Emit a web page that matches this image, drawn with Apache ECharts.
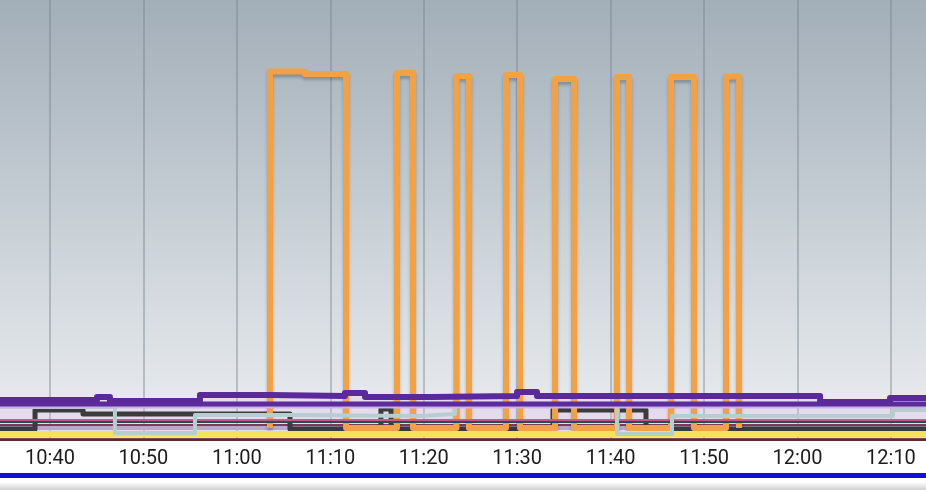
<!DOCTYPE html>
<html><head><meta charset="utf-8">
<script src="https://cdn.jsdelivr.net/npm/echarts@6/dist/echarts.min.js"></script>
<style>html,body{margin:0;padding:0;background:#fff;overflow:hidden}#c{width:926px;height:490px}</style>
</head><body><div id="c"></div>
<script>
const DAY = '2024-05-01';
const axisStart = '10:34:39';
const axisEnd = '12:13:45';
const tickLabels = ['10:40','10:50','11:00','11:10','11:20','11:30','11:40','11:50','12:00','12:10'];
const yMaxW = 2195;

// Orange (heater) power, W
const heaterTimes = ['11:03:32','11:03:33','11:07:17','11:11:41','11:17:08','11:18:51','11:23:30','11:24:50','11:28:48','11:30:18','11:34:03','11:36:05','11:40:41','11:41:58','11:46:28','11:48:55','11:52:21','11:53:44'];
const heaterW = [55,1837,1825,55,1830,55,1815,55,1820,55,1800,55,1810,55,1810,55,1812,55];

// Purple upper line, W
const purpleATimes = ['10:34:39','10:45:02','10:46:25','10:56:03','11:03:33','11:11:34','11:13:43','11:20:40','11:29:59','11:32:07','12:02:25','12:09:54','12:13:45'];
const purpleAW = [195,210,190,220,215,230,210,215,235,215,185,205,205];

// Purple lower line, W
const purpleBTimes = ['10:34:39','12:13:45'];
const purpleBW = [175,175];

// Lavender line, W
const lavenderTimes = ['10:34:39','12:13:45'];
const lavenderW = [160,160];

// Light cyan-grey line, W
const cyanTimes = ['10:34:39','10:46:57','10:55:31','11:05:41','11:19:36','11:23:21','11:40:41','11:46:34','12:10:13','12:13:45'];
const cyanW = [160,30,120,115,125,165,25,115,145,145];

// Dark grey line, W
const darkTimes = ['10:34:39','10:38:24','10:43:32','11:05:41','11:15:25','11:16:30','11:33:50','11:43:47','12:13:45'];
const darkW = [50,145,125,50,150,50,145,50,50];

// Flat base lines, W
const flatTimes = ['10:34:39','12:13:45'];
const pinkW = [95,95];
const tealW = [85,85];
const maroonW = [70,70];
const mauveW = [55,55];
const yellowW = [25,25];

function toMs(t){ const p = t.split(':'); return new Date(DAY + 'T' + (p.length===2 ? t+':00' : t)).getTime(); }
function pairs(times, vals){ return times.map((t,i)=>[toMs(t), vals[i]]); }
function pad(n){ return (n<10?'0':'')+n; }
function stepLine(name, times, vals, color, width, extra){
  return Object.assign({
    name, type:'line', step:'end', showSymbol:false, symbol:'none',
    data: pairs(times, vals),
    lineStyle:{color, width, join:'round', cap:'round'},
    itemStyle:{color},
    silent:true
  }, extra||{});
}
const tickValues = tickLabels.map(toMs);

const chart = echarts.init(document.getElementById('c'), null, {renderer:'canvas'});
chart.setOption({
  animation:false,
  backgroundColor:'#ffffff',
  grid:{left:0, right:0, top:0, bottom:51, containLabel:false, outerBoundsMode:'none'},
  xAxis:{
    type:'value',
    min: toMs(axisStart), max: toMs(axisEnd),
    axisLine:{show:true, onZero:false, lineStyle:{color:'#5e2b2b', width:3}},
    axisTick:{show:false, customValues: tickValues},
    axisLabel:{customValues: tickValues, formatter:function(v){const d=new Date(v);return pad(d.getHours())+':'+pad(d.getMinutes());},
      color:'#1c1c1c', fontSize:20, fontFamily:'Roboto', margin:10, hideOverlap:false, showMinLabel:true, showMaxLabel:true},
    splitLine:{show:true, lineStyle:{color:'rgba(115,127,138,0.4)', width:2}}
  },
  yAxis:{type:'value', min:0, max:yMaxW, show:false, splitLine:{show:false}},
  graphic:[
    {type:'rect', z:-100, silent:true, shape:{x:0,y:0,width:926,height:439},
     style:{fill:{type:'linear',x:0,y:0,x2:0,y2:1,colorStops:[
       {offset:0,color:'#a2aeb8'},{offset:0.45,color:'#c4ccd3'},{offset:0.88,color:'#e3e7eb'},
       {offset:0.905,color:'#ebe6f0'},{offset:1,color:'#ede9f1'}]}}},
    {type:'rect', silent:true, shape:{x:0,y:473,width:926,height:5}, style:{fill:'#0c16c9'}},
    {type:'rect', silent:true, shape:{x:0,y:482,width:926,height:8},
     style:{fill:{type:'linear',x:0,y:0,x2:0,y2:1,colorStops:[{offset:0,color:'#ffffff'},{offset:1,color:'#cfd0d2'}]}}}
  ],
  series:[
    stepLine('purpleArea', purpleATimes, purpleAW, 'rgba(0,0,0,0)', 0, {areaStyle:{color:'rgba(205,185,232,0.35)'}, z:1}),
    stepLine('mauve', flatTimes, mauveW, '#bba8c6', 4),
    stepLine('maroon', flatTimes, maroonW, '#7c3a5c', 2),
    stepLine('dark', darkTimes, darkW, '#3b3b3b', 5),
    stepLine('heater', heaterTimes, heaterW, '#f2a143', 6, {lineStyle:{color:'#f2a143', width:6, join:'round', shadowColor:'rgba(40,50,60,0.3)', shadowBlur:3, shadowOffsetY:3}}),
    stepLine('teal', flatTimes, tealW, '#2f4a4c', 2),
    stepLine('pink', flatTimes, pinkW, '#c25a92', 2),
    stepLine('yellow', flatTimes, yellowW, '#f4e25a', 6),
    stepLine('cyan', cyanTimes, cyanW, '#b7ced1', 4),
    stepLine('lavender', lavenderTimes, lavenderW, '#c8b4df', 3),
    stepLine('purpleB', purpleBTimes, purpleBW, '#5c2b9d', 5),
    stepLine('purpleA', purpleATimes, purpleAW, '#5a2a9b', 6)
  ]
});
</script></body></html>
